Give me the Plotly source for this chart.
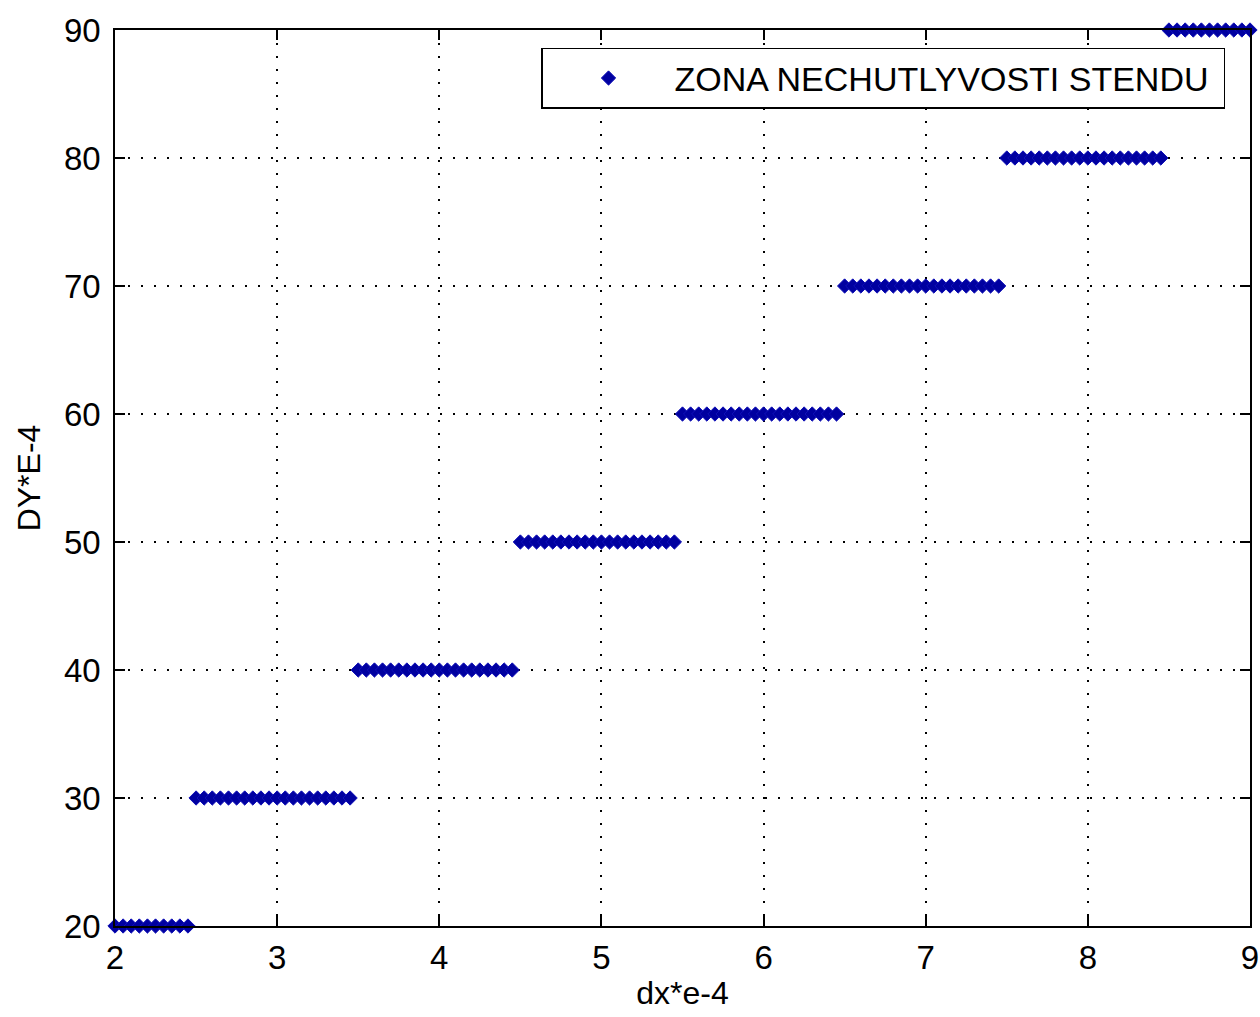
import numpy as np
import plotly.graph_objects as go

# Step segments (points every 0.05 along x)
seg_start = [2.0, 2.5, 3.5, 4.5, 5.5, 6.5, 7.5, 8.5]
seg_end = [2.45, 3.45, 4.45, 5.45, 6.45, 7.45, 8.45, 9.0]
seg_level = [20, 30, 40, 50, 60, 70, 80, 90]
x_step = 0.05

x_ticks = [2, 3, 4, 5, 6, 7, 8, 9]
y_ticks = [20, 30, 40, 50, 60, 70, 80, 90]

xs, ys = [], []
for s, e, lv in zip(seg_start, seg_end, seg_level):
    n = int(round((e - s) / x_step)) + 1
    for i in range(n):
        xs.append(round(s + i * x_step, 4))
        ys.append(lv)

FONT = "Liberation Sans, Arial, sans-serif"

fig = go.Figure()
fig.add_trace(go.Scatter(
    x=xs, y=ys, mode="markers",
    name="ZONA NECHUTLYVOSTI STENDU\u00a0",
    marker=dict(symbol="diamond", size=11, color="#0000a0",
                line=dict(width=1, color="#1010b8")),
    cliponaxis=False,
))

axis_common = dict(
    showline=True, linecolor="black", linewidth=1.5, mirror="ticks",
    ticks="inside", ticklen=10, tickwidth=1.5, tickcolor="black",
    showgrid=True, gridcolor="black", gridwidth=1.5, griddash="2px,11px",
    zeroline=False, automargin=False,
    tickfont=dict(family=FONT, size=33, color="black"),
)

fig.update_xaxes(
    range=[2, 9], tickvals=x_ticks, ticktext=[str(v) for v in x_ticks],
    title=dict(text="dx*e-4", font=dict(family=FONT, size=32, color="black"), standoff=6),
    ticklabelstandoff=2,
    **axis_common,
)
fig.update_yaxes(
    range=[20, 90], tickvals=y_ticks, ticktext=[str(v) for v in y_ticks],
    title=dict(text="DY*E-4", font=dict(family=FONT, size=32, color="black"), standoff=14),
    ticklabelstandoff=6,
    **axis_common,
)

fig.update_layout(
    width=1260, height=1017,
    margin=dict(l=115, r=10, t=30, b=91),
    paper_bgcolor="white", plot_bgcolor="white",
    showlegend=True,
    legend=dict(
        x=0.978, y=0.98, xanchor="right", yanchor="top",
        bgcolor="white", bordercolor="black", borderwidth=1.5,
        font=dict(family=FONT, size=34, color="black"),
        itemwidth=122,
    ),
)

fig.write_html(
    "out.html",
    config={"displayModeBar": False},
    post_script="document.body.style.margin='0';document.body.style.overflow='hidden';",
)
